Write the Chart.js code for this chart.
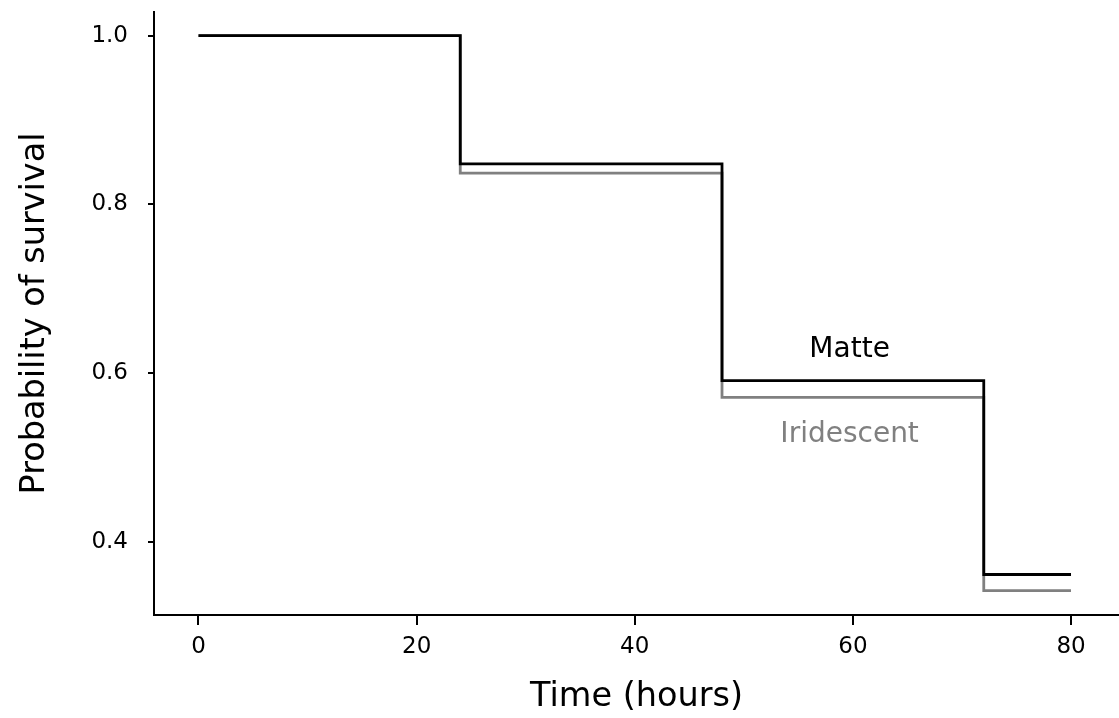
<!DOCTYPE html>
<html>
<head>
<meta charset="utf-8">
<script src="https://cdn.jsdelivr.net/npm/chart.js@4.4.1/dist/chart.umd.min.js"></script>
<style>
  html, body { margin: 0; padding: 0; background: #fff; }
  #wrap { width: 1119px; height: 718px; position: relative; }
</style>
</head>
<body>
<div id="wrap"><canvas id="c"></canvas></div>
<script>
const timePoints = [0, 24, 48, 72, 80];
const matteSurvival = [1.0, 0.848, 0.591, 0.361, 0.361];
const iridescentSurvival = [1.0, 0.837, 0.571, 0.342, 0.342];
const xTickValues = [0, 20, 40, 60, 80];
const yTickValues = [0.4, 0.6, 0.8, 1.0];
const seriesNames = ['Matte', 'Iridescent'];
const seriesColors = ['#000000', '#808080'];
const labelX = [59.7, 59.7];
const labelY = [0.627, 0.527];

const FONT = "'DejaVu Sans', Verdana, sans-serif";

const toPts = (ys) => timePoints.map((t, i) => ({x: t, y: ys[i]}));

const labelPlugin = {
  id: 'seriesLabels',
  afterDatasetsDraw(chart) {
    const {ctx, scales} = chart;
    ctx.save();
    ctx.font = '28px ' + FONT;
    ctx.textAlign = 'center';
    ctx.textBaseline = 'middle';
    seriesNames.forEach((n, i) => {
      ctx.fillStyle = seriesColors[i];
      ctx.fillText(n, scales.x.getPixelForValue(labelX[i]), scales.y.getPixelForValue(labelY[i]));
    });
    ctx.restore();
  }
};

new Chart(document.getElementById('c'), {
  type: 'line',
  data: {
    datasets: [
      { label: seriesNames[0], data: toPts(matteSurvival), borderColor: seriesColors[0], borderWidth: 2.8, stepped: 'before', pointRadius: 0, fill: false },
      { label: seriesNames[1], data: toPts(iridescentSurvival), borderColor: seriesColors[1], borderWidth: 2.8, stepped: 'before', pointRadius: 0, fill: false }
    ]
  },
  options: {
    responsive: true,
    maintainAspectRatio: false,
    animation: false,
    layout: { padding: { top: 12, right: 0, left: 0, bottom: 0 } },
    plugins: { legend: { display: false }, tooltip: { enabled: false } },
    scales: {
      x: {
        type: 'linear',
        min: -4.08,
        max: 84.4,
        afterBuildTicks(s) { s.ticks = xTickValues.map(v => ({value: v})); },
        afterFit(s) { s.height = 103; s.paddingLeft = 0; s.paddingRight = 0; },
        ticks: { color: '#000', font: { family: FONT, size: 23 }, padding: 8, maxRotation: 0, callback: v => String(v) },
        grid: { drawOnChartArea: false, tickLength: 10, color: '#000', lineWidth: 2 },
        border: { display: true, color: '#000', width: 2 },
        title: { display: true, text: 'Time (hours)', color: '#000', font: { family: FONT, size: 33.5 }, padding: { top: 0, bottom: 1 } }
      },
      y: {
        type: 'linear',
        min: 0.313,
        max: 1.028,
        afterBuildTicks(s) { s.ticks = yTickValues.map(v => ({value: v})); },
        afterFit(s) { s.width = 154; s.paddingTop = 0; s.paddingBottom = 0; },
        ticks: { color: '#000', font: { family: FONT, size: 23 }, padding: 20, callback: v => Number(v).toFixed(1) },
        grid: { drawOnChartArea: false, tickLength: 6, color: '#000', lineWidth: 2 },
        border: { display: true, color: '#000', width: 2 },
        title: { display: true, text: 'Probability of survival', color: '#000', font: { family: FONT, size: 33.5 }, padding: { top: 15, bottom: 0 } }
      }
    }
  },
  plugins: [labelPlugin]
});
</script>
</body>
</html>
